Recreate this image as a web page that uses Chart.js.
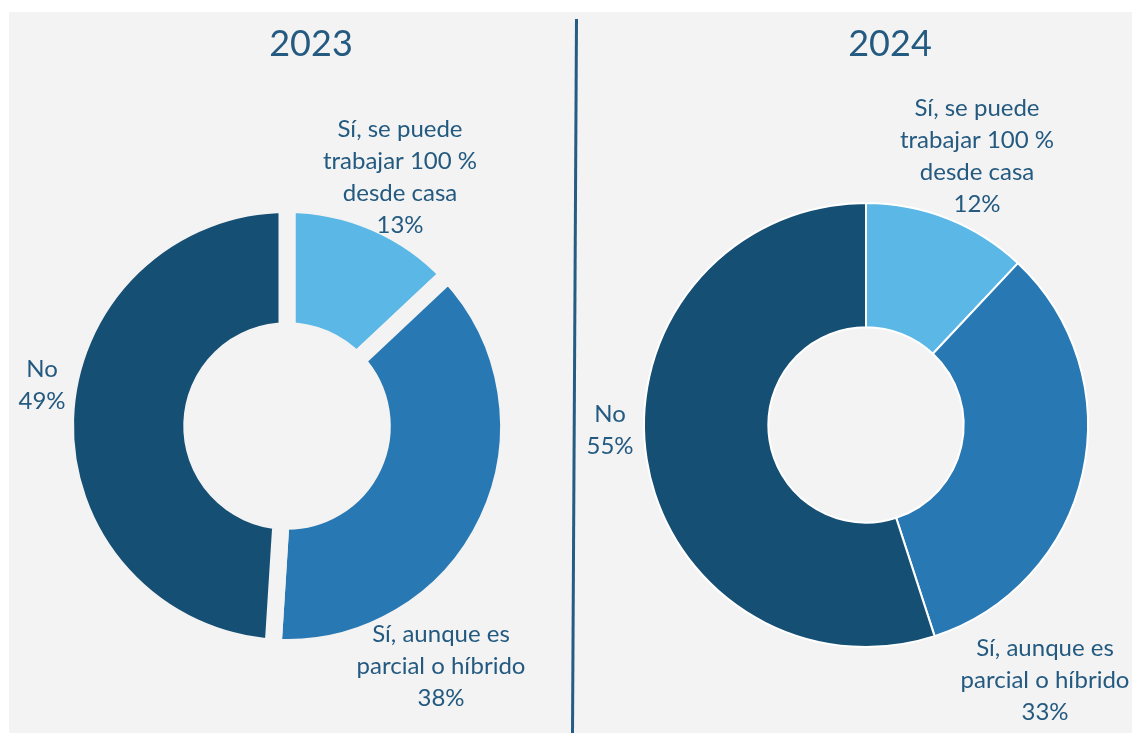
<!DOCTYPE html>
<html>
<head>
<meta charset="utf-8">
<script src="https://cdn.jsdelivr.net/npm/chart.js@4/dist/chart.umd.min.js"></script>
<style>
  html, body { margin: 0; padding: 0; background: #ffffff; }
  body { width: 1132px; height: 733px; position: relative; overflow: hidden; }
  #panel { position: absolute; left: 9px; top: 12px; right: 0; bottom: 0; background: #f3f3f3; }
  #divider { position: absolute; left: 572.5px; top: 19px; width: 3px; height: 714px;
    background: #245c84; transform: rotate(0.32deg); transform-origin: 50% 50%; }
  canvas { position: absolute; }
  #c2023 { left: 9px; top: 12px; }
  #c2024 { left: 577px; top: 12px; }
</style>
</head>
<body>
<div id="panel"></div>
<div id="divider"></div>
<canvas id="c2023" width="566" height="721"></canvas>
<canvas id="c2024" width="555" height="721"></canvas>
<script>
// Chart data
const years = ['2023', '2024'];
const categories = [
  ['Sí, se puede', 'trabajar 100 %', 'desde casa'],
  ['Sí, aunque es', 'parcial o híbrido'],
  ['No']
];
const values2023 = [13, 38, 49];
const values2024 = [12, 33, 55];
const sliceColors = ['#5bb8e6', '#2878b4', '#154f73'];

const TEXT_COLOR = '#245a80';
const BG = '#f3f3f3';

// draws year title and the slice labels next to each arc
const sliceLabels = {
  id: 'sliceLabels',
  afterDatasetsDraw(chart, args, opts) {
    const ctx = chart.ctx;
    const meta = chart.getDatasetMeta(0);
    const values = chart.data.datasets[0].data;
    const lineH = 32;
    ctx.save();
    ctx.fillStyle = TEXT_COLOR;
    ctx.textAlign = 'center';
    ctx.textBaseline = 'middle';
    ctx.font = '24px Lato';
    meta.data.forEach((arc, i) => {
      const lines = [...categories[i], values[i] + '%'];
      const [dx, dy] = opts.offsets[i];
      const top = arc.y + dy - (lines.length - 1) * lineH / 2;
      lines.forEach((t, j) => ctx.fillText(t, arc.x + dx, top + j * lineH));
    });
    ctx.font = '36px Lato';
    ctx.fillText(opts.title, meta.data[0].x + opts.titleDx, opts.titleY);
    ctx.restore();
  }
};

function makeDoughnut(id, year, values, ds, padding, cutout, offsets) {
  new Chart(document.getElementById(id), {
    type: 'doughnut',
    data: {
      labels: categories.map(c => c.join(' ')),
      datasets: [Object.assign({
        data: values,
        backgroundColor: sliceColors
      }, ds)]
    },
    options: {
      responsive: false,
      animation: false,
      cutout: cutout,
      layout: { padding: padding },
      plugins: {
        legend: { display: false },
        tooltip: { enabled: false },
        sliceLabels: { title: year, titleDx: 24, titleY: 32, offsets: offsets }
      }
    },
    plugins: [sliceLabels]
  });
}

makeDoughnut('c2023', years[0], values2023,
  { borderWidth: 17, borderColor: BG, borderJoinStyle: 'miter' },
  { left: 48, right: 58, top: 184, bottom: 77 }, '43%',
  [[113, -249], [154, 240], [-245, -41]]);

makeDoughnut('c2024', years[1], values2024,
  { borderWidth: 2, borderColor: '#ffffff' },
  { left: 66, right: 43, top: 190, bottom: 85 }, '44%',
  [[111, -269], [179, 255], [-256, 5]]);
</script>
</body>
</html>
